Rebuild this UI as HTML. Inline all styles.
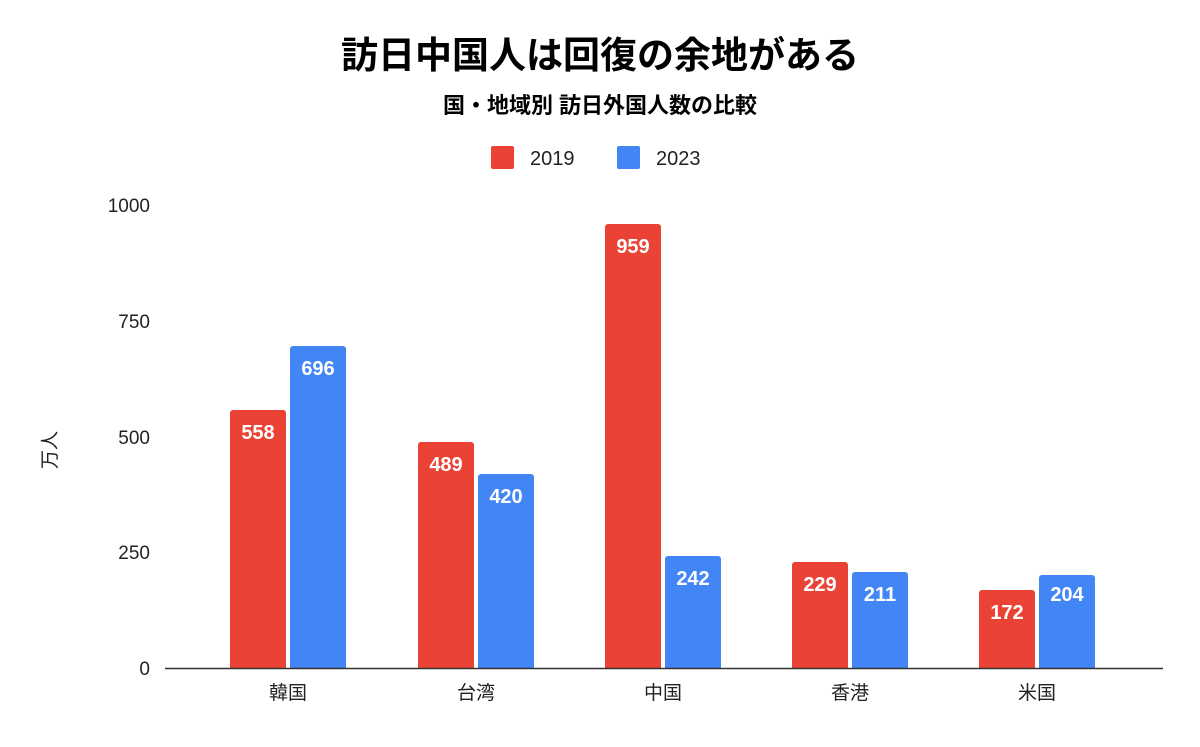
<!DOCTYPE html>
<html><head><meta charset="utf-8"><style>
body{margin:0;background:#fff;}
text{font-family:"Liberation Sans","Noto Sans CJK JP",sans-serif;}
</style></head><body>
<svg width="1200" height="742" xmlns="http://www.w3.org/2000/svg">
<rect width="1200" height="742" fill="#fff"/>
<text x="600" y="68" text-anchor="middle" font-size="37" font-weight="bold" fill="#000">訪日中国人は回復の余地がある</text>
<text x="600" y="113" text-anchor="middle" font-size="22" font-weight="bold" fill="#000">国・地域別 訪日外国人数の比較</text>
<rect x="491" y="146" width="23" height="23" rx="2" fill="#EA4335"/>
<text x="530" y="165" font-size="20" fill="#222">2019</text>
<rect x="617" y="146" width="23" height="23" rx="2" fill="#4285F4"/>
<text x="656" y="165" font-size="20" fill="#222">2023</text>
<g font-size="19" fill="#222" text-anchor="end">
<text x="150" y="212">1000</text>
<text x="150" y="328">750</text>
<text x="150" y="444">500</text>
<text x="150" y="559">250</text>
<text x="150" y="675">0</text>
</g>
<text transform="translate(56,450) rotate(-90)" text-anchor="middle" font-size="19" fill="#222">万人</text>
<g>
<path d="M230,668V413a3,3 0 0 1 3,-3h50a3,3 0 0 1 3,3V668Z" fill="#EA4335"/>
<path d="M290,668V349a3,3 0 0 1 3,-3h50a3,3 0 0 1 3,3V668Z" fill="#4285F4"/>
<path d="M418,668V445a3,3 0 0 1 3,-3h50a3,3 0 0 1 3,3V668Z" fill="#EA4335"/>
<path d="M478,668V477a3,3 0 0 1 3,-3h50a3,3 0 0 1 3,3V668Z" fill="#4285F4"/>
<path d="M605,668V227a3,3 0 0 1 3,-3h50a3,3 0 0 1 3,3V668Z" fill="#EA4335"/>
<path d="M665,668V559a3,3 0 0 1 3,-3h50a3,3 0 0 1 3,3V668Z" fill="#4285F4"/>
<path d="M792,668V565a3,3 0 0 1 3,-3h50a3,3 0 0 1 3,3V668Z" fill="#EA4335"/>
<path d="M852,668V575a3,3 0 0 1 3,-3h50a3,3 0 0 1 3,3V668Z" fill="#4285F4"/>
<path d="M979,668V593a3,3 0 0 1 3,-3h50a3,3 0 0 1 3,3V668Z" fill="#EA4335"/>
<path d="M1039,668V578a3,3 0 0 1 3,-3h50a3,3 0 0 1 3,3V668Z" fill="#4285F4"/>
</g>
<g font-size="20" fill="#fff" text-anchor="middle" font-weight="bold">
<text x="258" y="439">558</text>
<text x="318" y="375">696</text>
<text x="446" y="471">489</text>
<text x="506" y="503">420</text>
<text x="633" y="253">959</text>
<text x="693" y="585">242</text>
<text x="820" y="591">229</text>
<text x="880" y="601">211</text>
<text x="1007" y="619">172</text>
<text x="1067" y="601">204</text>
</g>
<line x1="165" y1="668.5" x2="1163" y2="668.5" stroke="#333" stroke-width="1.5"/>
<g font-size="19" fill="#222" text-anchor="middle">
<text x="288" y="699">韓国</text>
<text x="476" y="699">台湾</text>
<text x="663" y="699">中国</text>
<text x="850" y="699">香港</text>
<text x="1037" y="699">米国</text>
</g>
</svg>
</body></html>
